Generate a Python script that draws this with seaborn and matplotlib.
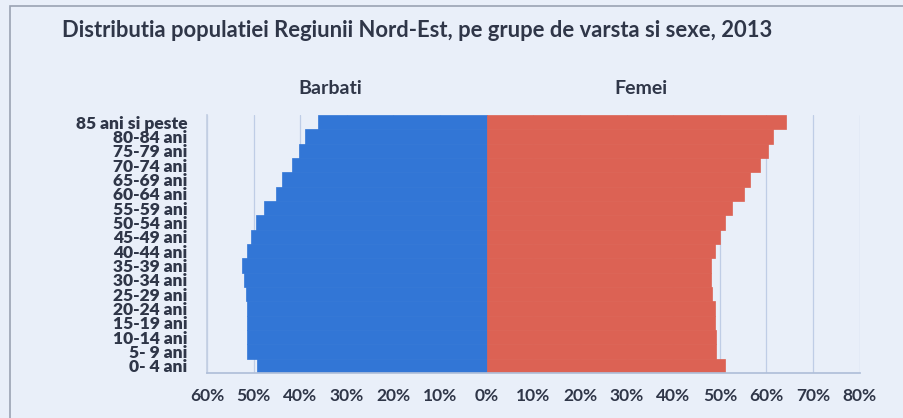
import numpy as np
import pandas as pd
import matplotlib
matplotlib.use("Agg")
import matplotlib.pyplot as plt
from matplotlib.patches import Rectangle
import seaborn as sns

# age groups, top to bottom as drawn
age_groups = ['85 ani si peste', '80-84 ani', '75-79 ani', '70-74 ani', '65-69 ani',
              '60-64 ani', '55-59 ani', '50-54 ani', '45-49 ani', '40-44 ani',
              '35-39 ani', '30-34 ani', '25-29 ani', '20-24 ani', '15-19 ani',
              '10-14 ani', '5- 9 ani', '0- 4 ani']
barbati = [36.3, 39.0, 40.2, 41.7, 44.0, 45.3, 47.8, 49.4, 50.6, 51.4,
           52.4, 52.1, 51.7, 51.5, 51.4, 51.4, 51.4, 49.2]
femei = [64.2, 61.5, 60.4, 58.6, 56.5, 55.1, 52.6, 51.0, 50.1, 49.0,
         48.1, 48.1, 48.4, 48.9, 49.0, 49.1, 49.1, 51.1]
x_ticks = [-60, -50, -40, -30, -20, -10, 0, 10, 20, 30, 40, 50, 60, 70, 80]

df = pd.DataFrame({'grupa': age_groups,
                   'Barbati': [-v for v in barbati],
                   'Femei': femei})

bg = '#e9eff9'
blue = '#3276d6'
red = '#dc6254'
txt = '#2f3648'

sns.set_theme(style='white')
plt.rcParams['font.family'] = ['Lato', 'DejaVu Sans']

fig = plt.figure(figsize=(9.04, 4.18), dpi=100, facecolor=bg)
ax = fig.add_axes([0.229, 0.108, 0.722, 0.617])
ax.set_facecolor(bg)

sns.barplot(data=df, y='grupa', x='Barbati', order=age_groups, color=blue,
            width=1.0, orient='h', saturation=1, linewidth=0, ax=ax, zorder=2)
sns.barplot(data=df, y='grupa', x='Femei', order=age_groups, color=red,
            width=1.0, orient='h', saturation=1, linewidth=0, ax=ax, zorder=2)
for p in ax.patches:
    p.set_edgecolor(p.get_facecolor())
    p.set_linewidth(0.5)

ax.set_xlim(-60, 80)
ax.set_ylim(len(age_groups) - 0.5, -0.5)
ax.set_xticks(x_ticks)
ax.set_xticklabels([f'{abs(t)}%' for t in x_ticks], fontsize=12.5,
                   fontweight='bold', color=txt)
ax.set_yticklabels(age_groups, fontsize=12.5, fontweight='heavy', color=txt)
ax.tick_params(axis='y', length=0, pad=14)
ax.tick_params(axis='x', length=0, pad=11)
ax.set_xlabel('')
ax.set_ylabel('')

for t in x_ticks:
    ax.axvline(t, color='#bfcde6', linewidth=0.9, zorder=1)

for s in ['top', 'right']:
    ax.spines[s].set_visible(False)
ax.spines['left'].set_color('#c3cfe3')
ax.spines['bottom'].set_color('#b0bfd9')

ax.text(-33.5, -2.35, 'Barbati', ha='center', va='center', fontsize=14,
        fontweight='bold', color=txt)
ax.text(33, -2.35, 'Femei', ha='center', va='center', fontsize=14,
        fontweight='bold', color=txt)

fig.text(0.069, 0.926, 'Distributia populatiei Regiunii Nord-Est, pe grupe de varsta si sexe, 2013',
         ha='left', va='center', fontsize=15.8, fontweight='bold', color=txt)

fig.patches.append(Rectangle((0.011, -0.1), 1.2, 1.086, transform=fig.transFigure,
                             fill=False, edgecolor='#9aa3b3', linewidth=1.2))

fig.savefig('out.png', dpi=100, facecolor=bg)
